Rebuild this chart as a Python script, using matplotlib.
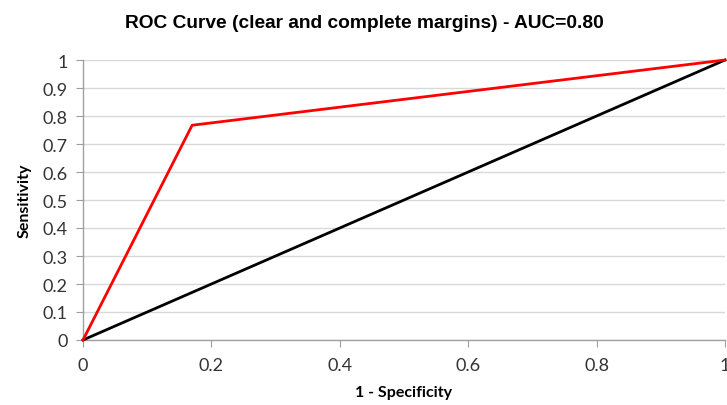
import matplotlib
matplotlib.use("Agg")
import matplotlib.pyplot as plt

# ROC points
fpr = [0.0, 0.17, 1.0]
tpr = [0.0, 0.767, 1.0]
diag_x = [0.0, 1.0]
diag_y = [0.0, 1.0]

x_ticks = [0, 0.2, 0.4, 0.6, 0.8, 1]
x_labels = ["0", "0.2", "0.4", "0.6", "0.8", "1"]
y_ticks = [0, 0.1, 0.2, 0.3, 0.4, 0.5, 0.6, 0.7, 0.8, 0.9, 1]
y_labels = ["0", "0.1", "0.2", "0.3", "0.4", "0.5", "0.6", "0.7", "0.8", "0.9", "1"]

plt.rcParams['font.family'] = ['Lato', 'DejaVu Sans']

fig = plt.figure(figsize=(7.27, 4.06), dpi=100)
ax = fig.add_axes([83/727, 1-341/406, 642/727, 280/406])

ax.plot(diag_x, diag_y, color='black', lw=2, clip_on=False, zorder=3)
ax.plot(fpr, tpr, color='#ff0000', lw=2, clip_on=False, zorder=4)

ax.set_xlim(0, 1)
ax.set_ylim(0, 1)
ax.set_xticks(x_ticks)
ax.set_xticklabels(x_labels)
ax.set_yticks(y_ticks)
ax.set_yticklabels(y_labels)
ax.tick_params(axis='both', labelsize=13, colors='#333333', length=5, color='#a0a0a0')
ax.tick_params(axis='x', pad=7)
ax.tick_params(axis='y', pad=6)

ax.grid(axis='y', color='#d9d9d9', lw=1)
ax.set_axisbelow(True)
for s in ['top', 'right']:
    ax.spines[s].set_visible(False)
for s in ['left', 'bottom']:
    ax.spines[s].set_color('#a0a0a0')
    ax.spines[s].set_linewidth(1)

ax.set_xlabel('1 - Specificity', fontsize=11.5, fontweight='bold', labelpad=9)
ax.set_ylabel('Sensitivity', fontsize=11.5, fontweight='bold', labelpad=8)
fig.text(0.5 * (128 + 600) / 727, 1-23/406, 'ROC Curve (clear and complete margins) - AUC=0.80',
         ha='center', va='center', fontsize=13.8, fontweight='bold',
         family=['Liberation Sans', 'DejaVu Sans'])

fig.savefig('out.png', dpi=100)
